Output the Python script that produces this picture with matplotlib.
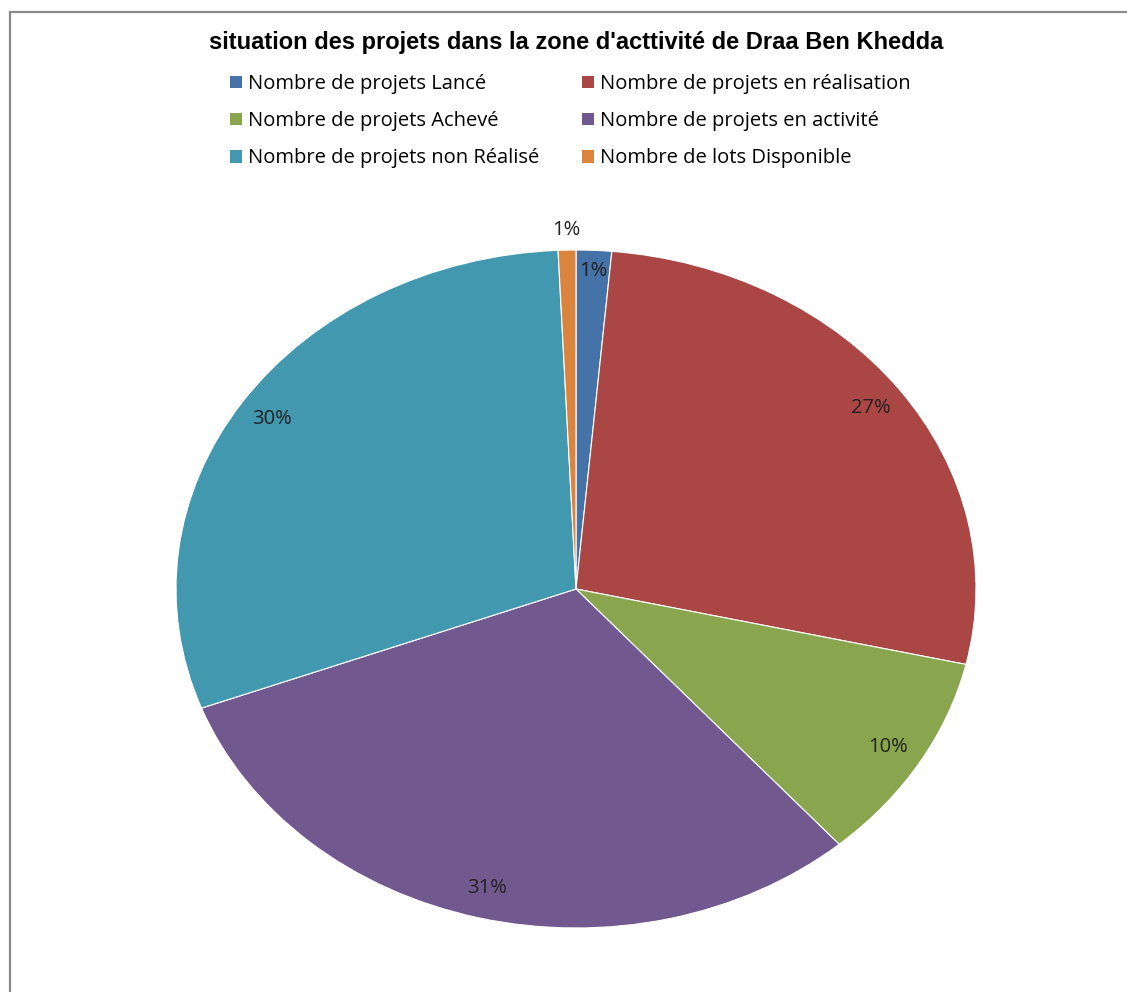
import matplotlib

matplotlib.use("Agg")
import matplotlib.pyplot as plt
import numpy as np
from matplotlib.patches import Rectangle

categories = [
    "Nombre de projets Lancé",
    "Nombre de projets en réalisation",
    "Nombre de projets Achevé",
    "Nombre de projets en activité",
    "Nombre de projets non Réalisé",
    "Nombre de lots Disponible",
]
counts = [2, 38, 14, 43, 42, 1]
colors = ["#4572A7", "#AA4643", "#89A54E", "#71588F", "#4198AF", "#DB843D"]
title = "situation des projets dans la zone d'acttivité de Draa Ben Khedda"

W, H = 1127, 992
fig = plt.figure(figsize=(W / 100, H / 100), dpi=100)
fig.patch.set_facecolor("white")

# pie is stretched horizontally in the original (Excel style)
ax = fig.add_axes([176 / W, 1 - 928 / H, 800 / W, 678 / H])
wedges, texts, autotexts = ax.pie(
    counts,
    colors=colors,
    startangle=90,
    counterclock=False,
    autopct="%1.0f%%",
    pctdistance=0.91,
    wedgeprops={"edgecolor": "white", "linewidth": 0.8},
    textprops={"family": "Open Sans", "fontsize": 14.5, "color": "#222222"},
)
ax.set_aspect("auto")
ax.set_xlim(-1, 1)
ax.set_ylim(-1, 1)
ax.axis("off")

# first slice label a bit further out, last (tiny) one outside the pie
label_r = [0.94, 0.91, 0.91, 0.91, 0.91, 1.06]
for w, t, r in zip(wedges, autotexts, label_r):
    mid = np.deg2rad((w.theta1 + w.theta2) / 2)
    t.set_position((r * np.cos(mid), r * np.sin(mid)))

fig.text(576 / W, 1 - 42 / H, title, ha="center", va="center",
         fontsize=17, fontweight="bold", family="Liberation Sans")

order = [0, 2, 4, 1, 3, 5]
leg = fig.legend(
    [wedges[i] for i in order],
    [categories[i] for i in order],
    ncol=2,
    loc="upper left",
    bbox_to_anchor=(230 / W, 1 - 74 / H),
    frameon=False,
    prop={"family": "Open Sans", "size": 14.5},
    handlelength=0.6,
    handleheight=0.6,
    handletextpad=0.3,
    labelspacing=0.85,
    columnspacing=2.1,
    borderaxespad=0,
    borderpad=0,
)
for h in leg.legend_handles:
    h.set_edgecolor("none")

fig.add_artist(Rectangle((10 / W, -0.1), 1.2, 1.1 - 12 / H, transform=fig.transFigure,
                         fill=False, edgecolor="#8a8a8a", linewidth=1.6))

fig.savefig("out.png", dpi=100)
